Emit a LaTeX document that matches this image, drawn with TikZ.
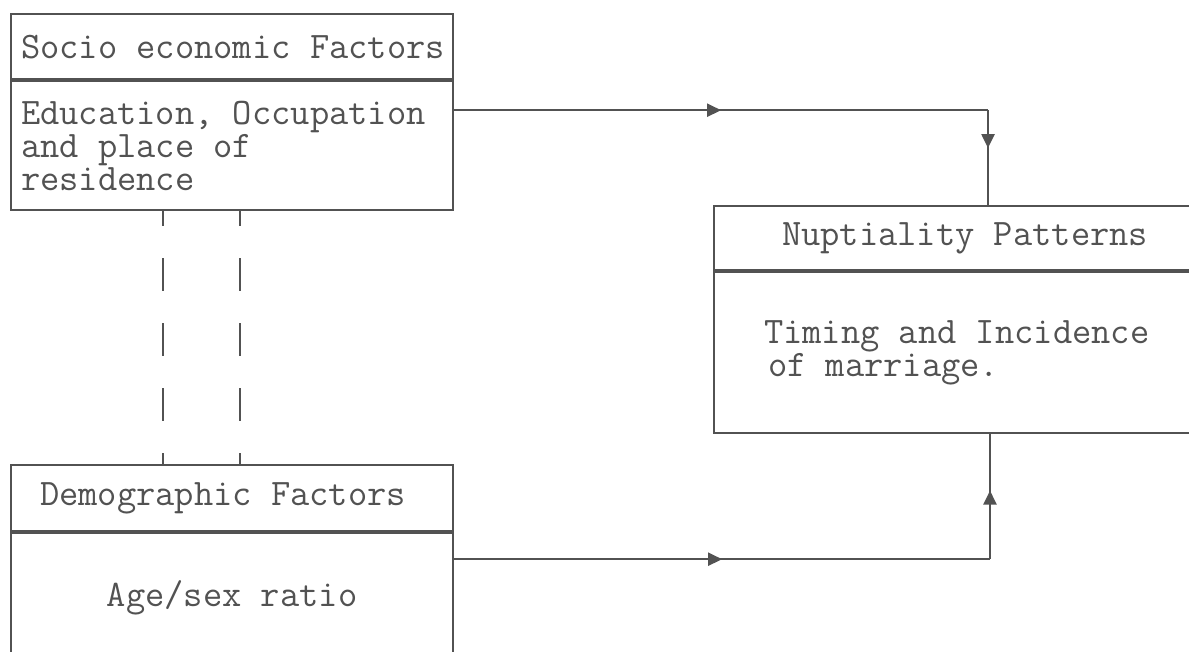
\documentclass[tikz,border=0pt]{standalone}
\usepackage{fontspec}
\usepackage{tikz}
\usetikzlibrary{arrows.meta,decorations.markings}

\definecolor{inkgray}{gray}{0.32}
\newcommand\fixspaces{\spaceskip=\fontcharwd\font 97\relax\xspaceskip=\spaceskip}

\tikzset{
  boxpart/.style={draw=inkgray, line width=1.1pt, rectangle, anchor=north west,
    inner xsep=5pt, inner ysep=0pt, text=inkgray,
    font=\ttfamily\fontsize{18.7}{16.5}\selectfont, execute at begin node=\fixspaces},
  flow/.style={draw=inkgray, line width=1.1pt},
  linkdash/.style={draw=inkgray, line width=1.1pt, dash pattern=on 16.5pt off 16pt, dash phase=9pt},
  arrowat/.style={postaction={decorate}, decoration={markings,
    mark=at position #1 with {\arrow[inkgray]{Triangle[length=7pt,width=6.5pt]}}}}
}

\begin{document}
\begin{tikzpicture}[x=0.5pt, y=-0.5pt]
\clip (0,0) rectangle (1189,652);
\fill[white] (0,0) rectangle (1189,652);

% socio economic box
\node[boxpart, minimum width=221pt, minimum height=32.5pt, text width=211pt, align=left]
  (socHead) at (10,13) {\mbox{Socio economic Factors}};
\node[boxpart, minimum width=221pt, minimum height=64.5pt, text width=211pt, align=left]
  (socBody) at (socHead.south west) {Education, Occupation\\and place of\\residence};

% demographic box
\node[boxpart, minimum width=221pt, minimum height=33pt, text width=211pt, align=center]
  (demHead) at (10,464) {\hspace*{-9pt}Demographic Factors};
\node[boxpart, minimum width=221pt, minimum height=65pt, text width=211pt, align=center]
  (demBody) at (demHead.south west) {\raisebox{3.5pt}{Age/sex ratio}};

% nuptiality box
\node[boxpart, minimum width=251pt, minimum height=32pt, text width=241pt, align=center]
  (nupHead) at (713,205) {Nuptiality Patterns};
\node[boxpart, minimum width=251pt, minimum height=80.5pt, inner xsep=25pt, text width=201pt, align=left]
  (nupBody) at (nupHead.south west) {Timing and Incidence\\\hspace*{2pt}of marriage.};

% rails for the elbow connectors
\coordinate (railA) at (988,0);
\coordinate (railB) at (990,0);

% socio economic -> nuptiality
\coordinate (outA) at ([yshift=-15pt]socBody.north east);
\draw[flow, arrowat=0.5] (outA) -- (outA -| railA);
\draw[flow, arrowat=0.4] (outA -| railA) -- (railA |- nupHead.north);

% demographic -> nuptiality
\coordinate (outB) at ([yshift=-13.5pt]demBody.north east);
\draw[flow, arrowat=0.5] (outB) -- (outB -| railB);
\draw[flow, arrowat=0.55] (outB -| railB) -- (railB |- nupBody.south);

% link between the two factor boxes
\draw[linkdash] ([xshift=76.5pt]socBody.south west) -- ([xshift=76.5pt]demHead.north west);
\draw[linkdash] ([xshift=115pt]socBody.south west) -- ([xshift=115pt]demHead.north west);
\end{tikzpicture}
\end{document}
